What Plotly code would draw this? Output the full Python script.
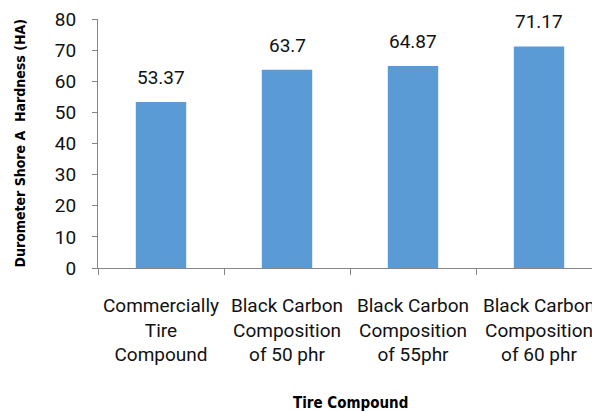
import plotly.graph_objects as go

categories = ["Commercially<br>Tire<br>Compound",
              "Black Carbon<br>Composition<br>of 50 phr",
              "Black Carbon<br>Composition<br>of 55phr",
              "Black Carbon<br>Composition<br>of 60 phr"]
values = [53.37, 63.7, 64.87, 71.17]
value_labels = ["53.37", "63.7", "64.87", "71.17"]
y_ticks = [0, 10, 20, 30, 40, 50, 60, 70, 80]

W, H = 592, 412
L, T, B = 98, 19, 144
plot_w = W - L
plot_h = H - T - B
unit = 126.0

fig = go.Figure()
fig.add_trace(go.Bar(x=categories, y=values, marker_color="#5B9BD5",
                     marker_line_width=0, width=0.4))

for c, v, t in zip(categories, values, value_labels):
    fig.add_annotation(x=c, y=v, text=t, showarrow=False, yanchor="bottom",
                       yshift=11, font=dict(family="Roboto", size=19, color="#111"))

fig.add_annotation(xref="paper", yref="paper", x=(350 - L) / plot_w, y=-(403 - 268) / plot_h,
                   text="<b>Tire Compound</b>", showarrow=False, yanchor="middle",
                   font=dict(family="DejaVu Sans Condensed", size=15, color="#000"))
fig.add_annotation(xref="paper", yref="paper", x=-(L - 19) / plot_w, y=0.5,
                   text="<b>Durometer Shore A  Hardness (HA)</b>", showarrow=False,
                   textangle=-90, xanchor="center",
                   font=dict(family="DejaVu Sans Condensed", size=14, color="#000"))

fig.update_layout(
    template="none",
    width=W, height=H,
    margin=dict(l=L, r=0, t=T, b=B, pad=0),
    paper_bgcolor="white", plot_bgcolor="white",
    showlegend=False,
    font=dict(family="Roboto", size=19, color="#111"),
    xaxis=dict(range=[-0.5, -0.5 + plot_w / unit], showline=True, linecolor="#868686",
               linewidth=1, ticks="outside", tickson="boundaries", ticklen=6,
               tickcolor="#868686", showgrid=False, tickfont=dict(size=19),
               automargin=False, ticklabelstandoff=20),
    yaxis=dict(range=[0, 80], tickvals=y_ticks, showline=True, linecolor="#868686",
               linewidth=1, ticks="outside", ticklen=5, tickcolor="#868686",
               showgrid=False, zeroline=False, tickfont=dict(size=19),
               automargin=False, ticklabelstandoff=12),
)

fig.write_html("out.html", config={"displayModeBar": False},
               post_script="document.body.style.margin='0';document.body.style.overflow='hidden';")
